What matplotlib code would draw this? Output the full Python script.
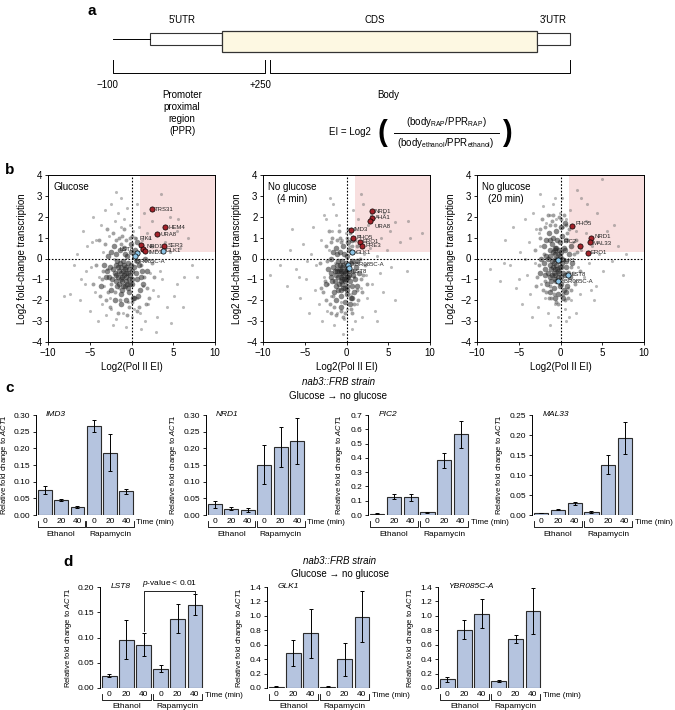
import matplotlib
matplotlib.use("Agg")
import matplotlib.pyplot as plt
from matplotlib.patches import Rectangle
from matplotlib.transforms import blended_transform_factory
import numpy as np

plt.rcParams['font.family'] = ['Liberation Sans', 'DejaVu Sans']
plt.rcParams['mathtext.fontset'] = 'custom'
plt.rcParams['mathtext.rm'] = 'Liberation Sans'
plt.rcParams['mathtext.it'] = 'Liberation Sans:italic'
plt.rcParams['axes.linewidth'] = 0.7

# ---------------- data: panel b (scatter, Log2 Pol II EI vs Log2 FC) ----------------
glucose_bg = [
    (-8.1, -1.8), (-7.4, -1.7), (-6.9, -0.3), (-6.5, 0.2), (-6.2, -2.0), (-5.8, 1.3), (-5.6, -1.2),
    (-5.3, 0.6), (-5.0, -2.5), (-4.8, -0.4), (-4.6, 2.0), (-4.4, -1.6), (-4.2, 0.9), (-4.0, -3.0),
    (-3.9, -0.9), (-3.7, 1.6), (-3.5, -2.2), (-3.4, 0.3), (-3.2, 2.3), (-3.0, -2.7), (-2.9, -0.5),
    (-2.7, 1.1), (-2.6, -1.9), (-2.4, 2.6), (-2.2, -3.2), (-2.1, 0.0), (-2.0, 1.8), (-1.8, -2.9),
    (-1.6, 2.2), (-1.5, -1.4), (-1.3, 1.5), (-1.2, 2.9), (-1.0, -2.6), (-0.9, 1.9), (-0.7, -3.3),
    (-0.5, 2.4), (-0.4, -2.1), (-0.2, 1.6), (0.0, -2.8), (0.2, 1.3), (0.3, -2.4), (0.5, 1.0),
    (0.7, -1.9), (0.9, 1.5), (1.0, -2.6), (1.2, 0.9), (1.4, -1.3), (1.6, -3.0), (1.8, 1.2),
    (2.0, -2.2), (2.2, -0.7), (2.4, 1.8), (2.6, -1.5), (2.9, 0.4), (3.1, -2.8), (3.4, -0.6),
    (3.7, -1.0), (4.0, 0.8), (4.3, -2.3), (4.6, 0.3), (4.7, -3.1), (5.4, -1.2), (5.8, 0.5),
    (6.3, -0.9), (6.8, 1.0), (7.3, -0.3), (3.5, 3.1), (5.5, 1.3), (4.6, 2.0), (6.2, -2.3),
    (5.1, -1.8), (2.9, -3.5), (-6.0, -1.0), (5.6, 1.9), (-2.5, -2.4), (-4.7, 0.8), (1.5, 2.2),
    (-3.3, -1.3), (0.6, 2.6), (3.2, -1.8), (-5.5, -0.6), (2.1, 1.0), (1.1, -3.4), (-1.8, 3.2),
    (7.8, -0.9),
]
glucose_mid = [
    (-3.8, -1.8), (-3.2, 0.7), (-2.6, -2.3), (-2.2, 1.2), (-1.6, -2.6), (-1.1, 1.1), (-0.5, -2.7),
    (0.1, 1.1), (0.6, -2.5), (1.2, 0.4), (1.9, -1.4), (2.4, -0.2), (-4.3, -0.3), (-3.5, -1.0),
    (-2.9, 1.4), (-2.4, -1.2), (-1.9, 0.9), (-1.4, -2.0), (-0.9, 1.4), (-0.3, -2.3), (0.4, 1.0),
    (0.9, -2.3), (1.5, -0.9), (2.1, -1.9), (2.7, -0.9), (-4.6, -1.2), (-3.9, 0.9), (-3.1, -2.0),
    (-2.0, -1.6), (-1.2, 0.7), (-0.2, 1.0), (0.8, 0.3), (1.7, -2.2), (2.5, 0.6), (-3.4, -0.6),
    (-0.6, 0.9), (0.0, -2.1), (1.1, -0.3), (-2.8, -1.6), (-1.5, 1.0),
]
glucose_core = [
    (-0.8, -0.5), (-0.2, -0.8), (-1.4, -0.2), (0.3, -0.4), (-2.0, -0.7), (-1.1, -1.1), (-0.5, 0.1),
    (0.9, -0.3), (-1.7, -1.3), (-2.6, -0.4), (-0.1, 0.3), (-1.3, -1.7), (0.6, -1.0), (-0.9, 0.5),
    (-2.3, -1.0), (-0.4, -1.4), (1.3, -0.6), (-1.9, 0.2), (-0.7, -2.0), (0.1, -1.2), (-3.0, -0.9),
    (-1.5, -0.6), (0.4, 0.4), (-1.0, -0.1), (-2.1, 0.6), (1.0, -1.5), (-0.3, -0.5), (-1.6, -0.9),
    (-2.8, 0.1), (0.7, -0.1), (-1.2, -2.2), (-0.6, -1.1), (0.2, -1.9), (-2.4, -1.5), (-1.8, -0.3),
    (1.6, 0.0), (-0.9, -0.8), (-0.1, 0.7), (-1.4, 0.4), (-3.3, -0.3), (0.5, -0.7), (-2.0, -2.0),
    (-0.4, -0.2), (1.1, -0.9), (-1.1, -1.5), (-2.7, -0.9), (-0.2, -1.2), (-1.7, -0.1), (0.8, -1.8),
    (-0.8, 0.2), (-1.3, -0.7), (-2.2, -0.5), (0.0, -1.0), (-0.6, -0.4), (-1.5, -1.2), (1.4, -1.2),
    (-2.5, 0.3), (-0.3, -1.6), (-1.0, -0.6), (0.3, -1.9), (-1.9, -1.1), (-0.7, -0.9), (-3.6, -1.3),
    (1.8, -0.6), (-1.2, -0.4), (-0.5, -1.2), (-2.9, -0.6), (0.6, 0.8), (-1.6, -0.4), (-0.1, -0.3),
    (-1.0, -1.3), (-0.4, -0.7), (-1.3, -1.0), (-0.9, -0.3), (-0.6, -0.7), (-1.1, -0.9), (0.1, -0.6),
    (-1.8, -0.8), (-0.3, -1.0), (-0.8, -1.3),
]
min4_bg = [
    (-9.2, -0.8), (-8.0, -0.3), (-7.1, -1.3), (-6.5, 1.4), (-6.0, -0.5), (-5.6, -1.9), (-5.2, 0.7),
    (-4.8, -1.0), (-4.5, -2.6), (-4.3, 0.2), (-4.0, 1.5), (-3.8, -1.5), (-3.6, -0.3), (-3.3, -2.2),
    (-3.1, 0.9), (-2.9, -3.0), (-2.7, -0.9), (-2.5, 1.9), (-2.3, -2.5), (-2.1, 0.4), (-1.9, -1.8),
    (-1.7, 1.3), (-1.5, -3.2), (-1.3, 2.1), (-1.1, -2.6), (-0.9, 1.6), (-0.7, -2.1), (-0.5, 0.9),
    (-0.3, -2.9), (-0.1, 1.2), (0.1, -2.4), (0.3, 0.6), (0.5, -1.7), (0.7, -3.4), (0.9, -0.9),
    (1.1, 0.3), (1.3, -2.2), (1.5, 1.1), (1.7, -1.4), (1.9, -2.8), (2.1, 0.2), (2.3, -0.8),
    (2.5, -1.9), (2.8, 0.5), (3.1, -1.2), (3.4, -2.5), (3.7, 0.1), (4.0, -0.7), (4.4, -1.6),
    (4.8, 0.4), (5.3, -0.4), (5.8, -2.0), (6.4, 0.8), (7.2, -0.6), (7.6, 1.0), (9.0, 1.2),
    (1.7, 3.1), (4.5, 2.2), (2.0, 2.6), (5.8, 1.75), (5.2, 1.3), (-2.0, 2.9), (-2.7, 2.1),
    (1.4, 1.9), (-0.4, -3.6), (2.6, 1.6), (-5.7, -0.9), (0.8, 2.3), (3.6, -3.0), (-1.4, -0.2),
    (-6.8, 0.4), (7.4, 1.8), (4.1, 1.0), (-4.7, -0.1), (1.0, -3.0), (-2.2, -1.2), (-1.6, 2.6),
    (2.9, 2.1),
]
min4_mid = [
    (-2.8, -1.6), (-2.4, 0.6), (-2.0, -2.2), (-1.7, 1.0), (-1.3, -2.7), (-0.9, 1.3), (-0.4, -2.8),
    (0.2, 1.4), (0.6, -2.6), (1.2, 0.6), (1.7, -1.0), (2.2, -0.3), (-3.2, -0.2), (-2.6, -1.1),
    (-2.1, 1.3), (-1.6, -1.8), (-1.1, 0.9), (-0.6, -2.5), (0.0, 1.0), (0.5, -2.4), (1.0, 0.9),
    (1.4, -2.0), (1.9, -1.6), (2.4, -1.2), (-3.0, -1.4), (-2.3, -0.1), (-1.8, -2.6), (-0.8, 1.0),
    (0.4, 1.2), (1.6, 0.0), (-1.2, -0.5), (0.9, -2.2), (-2.5, -2.0), (-0.2, -2.6), (1.3, -1.5),
    (-1.9, 0.8), (0.7, 0.6), (-1.5, -2.3), (-0.7, 0.8), (2.0, -0.8),
]
min4_core = [
    (-0.3, -0.6), (0.2, -0.9), (-0.8, -0.3), (0.5, -0.2), (-1.2, -0.8), (-0.5, -1.2), (0.0, 0.1),
    (0.8, -0.6), (-1.0, -1.5), (-1.6, -0.4), (0.3, 0.4), (-0.7, -1.8), (0.6, -1.3), (-0.4, 0.6),
    (-1.4, -1.1), (0.1, -1.5), (1.1, -0.4), (-1.1, 0.2), (-0.2, -2.1), (0.4, -1.1), (-1.8, -0.9),
    (-0.9, -0.6), (0.7, 0.3), (-0.5, -0.1), (-1.3, 0.5), (0.9, -1.6), (0.0, -0.5), (-1.0, -0.9),
    (-1.9, 0.0), (0.6, -0.1), (-0.6, -2.3), (-0.2, -1.1), (0.5, -1.9), (-1.5, -1.6), (-1.1, -0.3),
    (1.3, -0.1), (-0.4, -0.8), (0.2, 0.8), (-0.8, 0.3), (-2.2, -0.5), (0.8, -0.8), (-1.2, -2.0),
    (-0.1, -0.2), (1.0, -1.0), (-0.6, -1.5), (-1.7, -1.1), (0.1, -1.3), (-1.0, -0.1), (0.7, -1.9),
    (-0.3, 0.2), (-0.7, -0.7), (-1.4, -0.6), (0.3, -0.8), (-0.1, -0.6), (-0.9, -1.2), (1.2, -1.3),
    (-1.6, 0.3), (0.0, -1.7), (-0.5, -0.4), (0.4, -2.2), (-1.2, -1.3), (-0.3, -1.0), (-2.4, -1.2),
    (1.5, -0.7), (-0.6, -0.6), (-0.2, -1.4), (-1.9, -0.7), (0.6, 0.9), (-0.8, -0.5), (0.1, -0.4),
    (-0.5, -1.0), (-0.2, -0.7), (-0.7, -1.1), (-0.4, -0.3), (0.0, -0.9), (-0.6, -0.9), (0.3, -0.6),
    (-1.1, -0.6), (-0.1, -1.0), (-0.4, -1.4),
]
min20_bg = [
    (-8.5, -0.5), (-7.3, -1.1), (-6.6, 0.9), (-6.1, -0.3), (-5.7, 1.5), (-5.3, -1.4), (-4.9, 0.3),
    (-4.6, -2.2), (-4.3, 1.9), (-4.0, -0.8), (-3.8, 0.8), (-3.6, -1.7), (-3.3, 2.2), (-3.1, -0.2),
    (-2.9, 1.4), (-2.7, -2.3), (-2.5, 0.6), (-2.3, -1.2), (-2.1, 2.5), (-1.9, -1.9), (-1.7, 1.7),
    (-1.5, -2.6), (-1.3, 2.1), (-1.1, -1.5), (-0.9, 2.6), (-0.7, -2.2), (-0.5, 1.9), (-0.3, -2.8),
    (-0.1, 2.2), (0.1, -1.8), (0.3, 1.5), (0.5, -2.4), (0.7, 1.9), (0.9, -1.4), (1.1, 2.3),
    (1.3, -2.0), (1.5, 0.8), (1.7, -1.1), (1.9, 1.3), (2.1, -0.4), (2.3, -1.7), (2.5, 0.4),
    (2.8, -0.9), (3.1, 1.8), (3.4, -0.2), (3.8, 0.6), (4.2, -1.3), (4.6, 0.2), (5.1, -0.6),
    (5.6, 1.3), (6.2, -0.1), (6.9, 0.6), (7.5, -0.8), (5.0, 3.8), (3.2, 2.6), (4.4, 2.2),
    (2.4, 2.9), (6.4, 1.6), (-2.4, 3.1), (-0.6, 2.9), (0.6, -3.0), (-3.4, -2.8), (1.8, -2.6),
    (4.0, -2.0), (-1.2, -3.2), (2.0, 3.3), (-5.0, -1.0), (3.0, 1.2), (-2.6, 1.2), (0.2, 2.9),
    (-4.2, 0.0), (1.0, -2.8), (3.6, -1.5), (-6.8, -0.2), (7.8, 0.2),
]
min20_mid = [
    (-2.8, -0.9), (-2.4, 1.0), (-2.1, -1.5), (-1.8, 1.5), (-1.4, -1.9), (-1.0, 1.8), (-0.5, -2.1),
    (0.0, 1.9), (0.5, -2.0), (1.0, 1.4), (1.5, -0.7), (2.0, 0.3), (-3.1, 0.4), (-2.6, -0.3),
    (-2.2, 1.9), (-1.7, -1.6), (-1.2, 1.6), (-0.8, -1.7), (-0.2, 2.0), (0.3, -1.7), (0.8, 1.2),
    (1.3, -1.5), (1.8, 0.9), (2.3, -0.6), (-2.9, -1.3), (-2.0, 0.2), (-1.5, 2.1), (-0.6, 1.6),
    (0.6, 1.6), (1.6, 0.2), (-1.1, -1.9), (0.9, -1.9), (-2.5, 1.4), (-0.3, -2.2), (1.2, -0.4),
    (-1.9, -1.1), (0.4, 2.1), (-1.3, -1.3), (-0.9, 2.1), (1.7, -1.2),
]
min20_core = [
    (-0.4, 0.0), (0.1, -0.4), (-0.9, 0.3), (0.4, 0.5), (-1.3, -0.3), (-0.6, -0.8), (-0.1, 0.8),
    (0.7, -0.1), (-1.1, -1.1), (-1.7, 0.1), (0.2, 1.1), (-0.8, -1.4), (0.5, -0.8), (-0.5, 1.3),
    (-1.5, -0.7), (0.0, -1.2), (1.0, 0.2), (-1.2, 0.9), (-0.3, -1.7), (0.3, -0.7), (-1.9, -0.5),
    (-1.0, -0.1), (0.6, 0.9), (-0.6, 0.5), (-1.4, 1.2), (0.8, -1.3), (-0.1, 0.1), (-1.1, -0.5),
    (-2.0, 0.6), (0.5, 0.4), (-0.7, -1.9), (-0.3, -0.6), (0.4, -1.5), (-1.6, -1.2), (-1.2, 0.4),
    (1.2, 0.6), (-0.5, -0.3), (0.1, 1.5), (-0.9, 1.0), (-2.3, 0.0), (0.7, -0.4), (-1.3, -1.6),
    (-0.2, 0.4), (0.9, -0.7), (-0.7, -1.0), (-1.8, -0.8), (0.0, -0.9), (-1.0, 0.7), (0.6, -1.6),
    (-0.4, 0.9), (-0.8, -0.2), (-1.5, 0.0), (0.2, -0.2), (-0.2, -0.1), (-1.0, -0.8), (1.1, -0.9),
    (-1.7, 0.9), (-0.1, -1.3), (-0.6, 0.2), (0.3, -1.9), (-1.3, -0.9), (-0.4, -0.5), (-2.5, -0.7),
    (1.4, -0.2), (-0.7, 0.0), (-0.3, -0.9), (-2.0, -0.2), (0.5, 1.7), (-0.9, -0.4), (0.0, 0.3),
    (-0.6, -0.5), (-0.3, 0.2), (-0.8, -0.7), (-0.5, 0.5), (-0.1, -0.4), (-0.7, 0.4), (0.2, 0.0),
    (-1.2, 0.1), (-0.2, -0.7), (-0.5, -1.1),
]

# highlighted genes: (name, x, y, kind)  kind 'up' = red, 'ctl' = blue
glucose_genes = [("TRS31", 2.5, 2.36, "up"), ("HEM4", 4.05, 1.5, "up"), ("URA8", 3.1, 1.15, "up"),
                 ("SER3", 3.95, 0.62, "up"), ("PIK1", 1.1, 0.67, "up"), ("NRD1", 1.4, 0.46, "up"),
                 ("IMD3", 1.6, 0.38, "up"), ("GLK1", 3.8, 0.38, "ctl"), ("LST8", 0.7, 0.25, "ctl"),
                 ("YBR085C-A", 0.44, 0.14, "ctl")]
min4_genes = [("NRD1", 3.0, 2.27, "up"), ("AHA1", 3.1, 1.95, "up"), ("URA8", 2.8, 1.8, "up"),
              ("IMD3", 0.5, 1.38, "up"), ("PHO5", 0.8, 1.0, "up"), ("ERO1", 1.6, 0.8, "up"),
              ("PRE3", 1.9, 0.6, "up"), ("GLK1", 0.7, 0.3, "ctl"), ("YBR085C-A", 0.2, -0.3, "ctl"),
              ("LST8", 0.3, -0.45, "ctl")]
min20_genes = [("PHO5", 1.4, 1.55, "up"), ("NRD1", 3.7, 0.98, "up"), ("MAL33", 3.5, 0.78, "up"),
               ("PIC2", 2.3, 0.62, "up"), ("ERO1", 3.3, 0.28, "up"), ("GLK1", -0.3, -0.08, "ctl"),
               ("LST8", 0.95, -0.78, "ctl"), ("YBR085C-A", -0.3, -1.1, "ctl")]
# label offsets (dx, dy, ha) for each gene label
glucose_lab = {"TRS31": (0.35, 0, "left"), "HEM4": (0.35, 0, "left"), "URA8": (0.35, 0, "left"),
               "SER3": (0.35, 0, "left"), "PIK1": (-0.2, 0.3, "left"), "NRD1": (0.4, 0.1, "left"),
               "IMD3": (0.45, -0.08, "left"), "GLK1": (0.35, 0, "left"), "LST8": (-0.4, 0.2, "right"),
               "YBR085C-A": (-0.3, -0.27, "left")}
min4_lab = {"NRD1": (0.35, 0, "left"), "AHA1": (0.35, 0, "left"), "URA8": (0.5, -0.25, "left"),
            "IMD3": (0.35, 0, "left"), "PHO5": (0.35, 0, "left"), "ERO1": (0.35, 0, "left"),
            "PRE3": (0.35, 0, "left"), "GLK1": (0.35, 0, "left"), "YBR085C-A": (0.4, 0, "left"),
            "LST8": (0.4, -0.15, "left")}
min20_lab = {"PHO5": (0.35, 0.15, "left"), "NRD1": (0.35, 0.05, "left"), "MAL33": (0.35, -0.05, "left"),
             "PIC2": (-0.35, 0.2, "right"), "ERO1": (0.35, 0, "left"), "GLK1": (0.35, 0, "left"),
             "LST8": (0.35, 0, "left"), "YBR085C-A": (0.35, 0, "left")}

# ---------------- data: panels c, d (qPCR bars) ----------------
time_labels = ["0", "20", "40", "0", "20", "40"]
imd3_val = [0.075, 0.045, 0.024, 0.267, 0.187, 0.071]
imd3_err = [0.012, 0.003, 0.002, 0.018, 0.055, 0.007]
nrd1_val = [0.032, 0.019, 0.015, 0.151, 0.204, 0.221]
nrd1_err = [0.011, 0.005, 0.005, 0.058, 0.060, 0.069]
pic2_val = [0.010, 0.128, 0.123, 0.020, 0.382, 0.565]
pic2_err = [0.002, 0.018, 0.022, 0.003, 0.055, 0.095]
mal33_val = [0.005, 0.013, 0.029, 0.008, 0.126, 0.192]
mal33_err = [0.001, 0.001, 0.004, 0.002, 0.024, 0.040]
lst8_val = [0.024, 0.096, 0.086, 0.038, 0.137, 0.165]
lst8_err = [0.003, 0.038, 0.022, 0.007, 0.029, 0.021]
glk1_val = [0.02, 0.48, 0.76, 0.02, 0.40, 0.99]
glk1_err = [0.01, 0.18, 0.34, 0.01, 0.23, 0.35]
ybr_val = [0.12, 0.81, 1.03, 0.10, 0.685, 1.07]
ybr_err = [0.035, 0.13, 0.20, 0.01, 0.055, 0.32]

W, H = 675, 710
fig = plt.figure(figsize=(W / 100, H / 100), dpi=100)


def box(left, top, w, h):
    return [left / W, 1 - (top + h) / H, w / W, h / H]


# ---------------- panel a: gene diagram (drawn in pixel units) ----------------
axa = fig.add_axes([0, 1 - 165 / H, 1, 165 / H])
axa.set_xlim(0, W)
axa.set_ylim(165, 0)
axa.axis('off')
ec = '#333333'
axa.plot([113, 150], [39, 39], color='k', lw=0.7)
axa.add_patch(Rectangle((150, 33), 72, 12, fc='white', ec=ec, lw=0.8))
axa.add_patch(Rectangle((222, 31), 315, 21, fc='#fdf8e2', ec=ec, lw=0.9))
axa.add_patch(Rectangle((537, 33), 33, 12, fc='white', ec=ec, lw=0.8))
axa.plot([113, 113, 265, 265], [60, 73, 73, 60], color='k', lw=0.7)
axa.plot([270, 270, 570, 570], [60, 73, 73, 60], color='k', lw=0.7)
fs = 7
axa.text(92, 11, 'a', fontsize=11, fontweight='bold', ha='center', va='center')
axa.text(182, 20, "5'UTR", fontsize=fs, ha='center', va='center')
axa.text(375, 20, "CDS", fontsize=fs, ha='center', va='center')
axa.text(553, 20, "3'UTR", fontsize=fs, ha='center', va='center')
axa.text(107, 85, '\u2212100', fontsize=fs, ha='center', va='center')
axa.text(260, 85, '+250', fontsize=fs, ha='center', va='center')
axa.text(182, 90, 'Promoter\nproximal\nregion\n(PPR)', fontsize=fs, ha='center', va='top', linespacing=1.25)
axa.text(388, 90, 'Body', fontsize=fs, ha='center', va='top')
axa.text(371, 132, 'EI = Log2', fontsize=fs, ha='right', va='center')
axa.text(382, 133, '(', fontsize=21, ha='center', va='center', fontweight='bold')
axa.text(507, 133, ')', fontsize=21, ha='center', va='center', fontweight='bold')
axa.text(446, 122, r'(body$_\mathregular{RAP}$/PPR$_\mathregular{RAP}$)', fontsize=fs, ha='center', va='center')
axa.plot([394, 499], [132.5, 132.5], color='k', lw=0.7)
axa.text(446, 143, r'(body$_\mathregular{ethanol}$/PPR$_\mathregular{ethanol}$)', fontsize=fs, ha='center', va='center')

# ---------------- panel b: scatter plots ----------------
RED = '#a3222a'
BLUE = '#8cc4e6'


def scatter_panel(left, bg, mid, core, genes, labs, title):
    ax = fig.add_axes(box(left, 175, 167, 167))
    ax.add_patch(Rectangle((1, 0.3), 9, 3.7, fc='#f8dfdf', ec='none', zorder=0))
    for pts, s, c, a in ((bg, 5, '#777777', 0.5), (mid, 8, '#555555', 0.55), (core, 16, '#262626', 0.55)):
        px, py = np.array(pts).T
        ax.scatter(px, py, s=s, color=c, alpha=a, lw=0, zorder=1)
    ax.axhline(0, color='k', ls=(0, (1.5, 1.5)), lw=0.8, zorder=2)
    ax.axvline(0, color='k', ls=(0, (1.5, 1.5)), lw=0.8, zorder=2)
    for name, x, y, kind in genes:
        ax.scatter([x], [y], s=14, color=RED if kind == 'up' else BLUE, edgecolor='k', lw=0.5, zorder=4)
        dx, dy, ha = labs[name]
        ax.text(x + dx, y + dy, name, fontsize=4.3, ha=ha, va='center', color='#222222', zorder=5)
    ax.set_xlim(-10, 10)
    ax.set_ylim(-4, 4)
    ax.set_xticks([-10, -5, 0, 5, 10])
    ax.set_yticks(range(-4, 5))
    ax.tick_params(labelsize=7, length=2.5, width=0.6, pad=1.5)
    ax.set_xlabel('Log2(Pol II EI)', fontsize=7, labelpad=3)
    ax.set_ylabel('Log2 fold-change transcription', fontsize=7, labelpad=3)
    ax.text(-9.4, 3.65, title, fontsize=7, ha='left', va='top', linespacing=1.2, multialignment='center')
    return ax


scatter_panel(48, glucose_bg, glucose_mid, glucose_core, glucose_genes, glucose_lab, 'Glucose')
scatter_panel(263, min4_bg, min4_mid, min4_core, min4_genes, min4_lab, 'No glucose\n(4 min)')
scatter_panel(477, min20_bg, min20_mid, min20_core, min20_genes, min20_lab, 'No glucose\n(20 min)')
fig.text(5 / W, 1 - 170 / H, 'b', fontsize=11, fontweight='bold', ha='left', va='center')

# ---------------- panels c, d: bar charts ----------------
BAR = '#b5c4df'


def bar_panel(left, top, w, h, vals, errs, ymax, step, fmt, gene, ylab_px):
    ax = fig.add_axes(box(left, top, w, h))
    x = np.arange(6)
    ax.bar(x, vals, width=0.85, color=BAR, edgecolor='#2b2b2b', lw=0.8, zorder=2)
    ax.errorbar(x, vals, yerr=errs, fmt='none', ecolor='k', elinewidth=0.7, capsize=1.5,
                capthick=0.7, zorder=3)
    ax.set_xlim(-0.55, 5.6)
    ax.set_ylim(0, ymax)
    ticks = np.arange(0, ymax + step / 2, step)
    ax.set_yticks(ticks)
    ax.set_yticklabels([fmt % t for t in ticks])
    for s in ('top', 'right', 'bottom'):
        ax.spines[s].set_visible(False)
    ax.spines['left'].set_linewidth(0.7)
    ax.set_xticks(x)
    ax.set_xticklabels(time_labels)
    ax.tick_params(axis='x', length=0, pad=2.5, labelsize=6)
    ax.tick_params(axis='y', length=2.5, width=0.6, pad=1.5, labelsize=6)
    ax.set_ylabel('Relative fold change to $\\it{ACT1}$', fontsize=5.5)
    ax.yaxis.set_label_coords(-ylab_px / w, 0.5)
    ax.text(0.1, 1.0, gene, transform=ax.transAxes, fontsize=6, style='italic', ha='left', va='center')
    tr = blended_transform_factory(ax.transData, ax.transAxes)
    px = 1.0 / h
    for g0, name in ((0, 'Ethanol'), (3, 'Rapamycin')):
        ax.plot([g0 - 0.45, g0 - 0.45, g0 + 2.45, g0 + 2.45],
                [-6 * px, -12 * px, -12 * px, -6 * px], transform=tr, color='k', lw=0.6, clip_on=False)
        ax.text(g0 + 1, -19 * px, name, transform=tr, fontsize=6, ha='center', va='center')
    ax.text(5.58, -7.5 * px, 'Time (min)', transform=tr, fontsize=5.8, ha='left', va='center')
    return ax


bar_panel(36, 415, 100, 100, imd3_val, imd3_err, 0.30, 0.05, '%.2f', 'IMD3', 26)
bar_panel(206, 415, 101, 100, nrd1_val, nrd1_err, 0.30, 0.05, '%.2f', 'NRD1', 27)
bar_panel(368, 415, 103, 100, pic2_val, pic2_err, 0.70, 0.1, '%.1f', 'PIC2', 23)
bar_panel(532, 415, 103, 100, mal33_val, mal33_err, 0.25, 0.05, '%.2f', 'MAL33', 27)

axl = bar_panel(100, 587, 105, 101, lst8_val, lst8_err, 0.20, 0.05, '%.2f', 'LST8', 26)
bar_panel(267, 587, 105, 101, glk1_val, glk1_err, 1.4, 0.2, '%.1f', 'GLK1', 22)
bar_panel(438, 587, 105, 101, ybr_val, ybr_err, 1.4, 0.2, '%.1f', 'YBR085C-A', 22)
axl.plot([2, 2, 5, 5], [0.113, 0.193, 0.193, 0.188], color='k', lw=0.6, clip_on=False)
axl.text(3.5, 0.197, r'$p$-value < 0.01', fontsize=6, ha='center', va='bottom')

fig.text(5 / W, 1 - 388 / H, 'c', fontsize=11, fontweight='bold', ha='left', va='center')
fig.text(338 / W, 1 - 382 / H, 'nab3::FRB strain', fontsize=7, style='italic', ha='center', va='center')
fig.text(338 / W, 1 - 396 / H, 'Glucose \u2192 no glucose', fontsize=7, ha='center', va='center')
fig.text(68 / W, 1 - 562 / H, 'd', fontsize=11, fontweight='bold', ha='center', va='center')
fig.text(340 / W, 1 - 561 / H, 'nab3::FRB strain', fontsize=7, style='italic', ha='center', va='center')
fig.text(340 / W, 1 - 574 / H, 'Glucose \u2192 no glucose', fontsize=7, ha='center', va='center')

fig.savefig('out.png', dpi=100)
